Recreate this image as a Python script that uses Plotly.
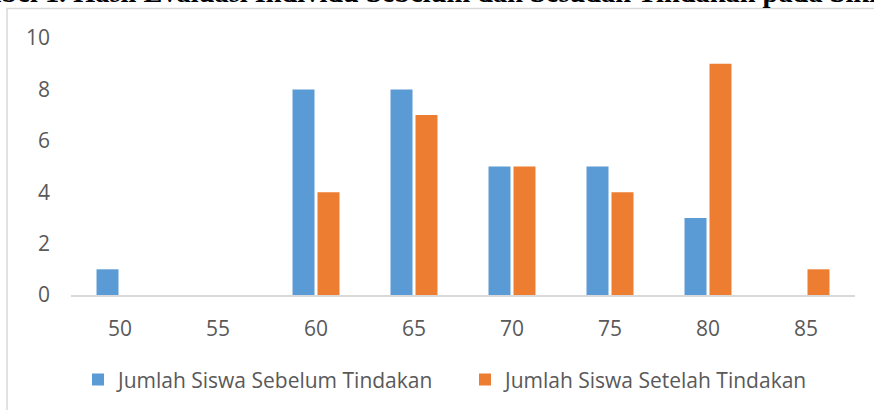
import plotly.graph_objects as go

categories = ["50", "55", "60", "65", "70", "75", "80", "85"]
sebelum = [1, 0, 8, 8, 5, 5, 3, 0]
setelah = [0, 0, 4, 7, 5, 4, 9, 1]
series_names = ["Jumlah Siswa Sebelum Tindakan", "Jumlah Siswa Setelah Tindakan"]
title_text = "Tabel 1. Hasil Evaluasi Individu Sebelum dan Sesudah Tindakan pada Siklus I"

W, H = 874, 410
L, R, T, B = 71, 19, 37.5, 115
pw, ph = W - L - R, H - T - B

def px_x(x):
    return (x - L) / pw

def px_y(y):
    return 1 - (y - T) / ph

fig = go.Figure()
fig.add_trace(go.Bar(x=categories, y=sebelum, name=series_names[0],
                     marker=dict(color="#5B9BD5", line=dict(width=0))))
fig.add_trace(go.Bar(x=categories, y=setelah, name=series_names[1],
                     marker=dict(color="#ED7D31", line=dict(width=0))))

tick_font = dict(family="Open Sans, Calibri, sans-serif", size=21, color="#595959")

fig.update_layout(
    width=W, height=H,
    margin=dict(l=L, r=R, t=T, b=B, autoexpand=False),
    paper_bgcolor="white", plot_bgcolor="white",
    barmode="group", bargap=0.49, bargroupgap=0.12,
    showlegend=True,
    legend=dict(orientation="h", x=(100 - 22) / W, xanchor="left", xref="container",
                y=px_y(380), yanchor="middle", yref="paper",
                font=dict(family="Open Sans, Calibri, sans-serif", size=21, color="#595959"),
                entrywidth=342, itemwidth=30, tracegroupgap=0),
    xaxis=dict(type="category", showgrid=False, showline=True, linecolor="#D9D9D9",
               linewidth=2, ticks="", tickfont=tick_font, ticklabelstandoff=14,
               zeroline=False),
    yaxis=dict(range=[0, 10], dtick=2, showgrid=False, showline=False, zeroline=False,
               ticks="", tickfont=tick_font, ticklabelstandoff=20),
    font=dict(family="Open Sans, sans-serif", color="#595959"),
)

# chart-area border
fig.add_shape(type="rect", xref="paper", yref="paper",
              x0=px_x(7), y0=px_y(H + 20), x1=px_x(W + 20), y1=px_y(8),
              line=dict(color="#D9D9D9", width=1.5), fillcolor="rgba(0,0,0,0)",
              layer="below")

# cropped document title
fig.add_annotation(text="<b>" + title_text + "</b>", xref="paper", yref="paper",
                   x=px_x(-31), y=px_y(-8), xanchor="left", yanchor="middle",
                   showarrow=False,
                   font=dict(family="Liberation Serif, Times New Roman, serif", size=28.4, color="black"))

fig.write_html("out.html", config={"displayModeBar": False},
               post_script="document.body.style.margin='0';document.body.style.overflow='hidden';")
